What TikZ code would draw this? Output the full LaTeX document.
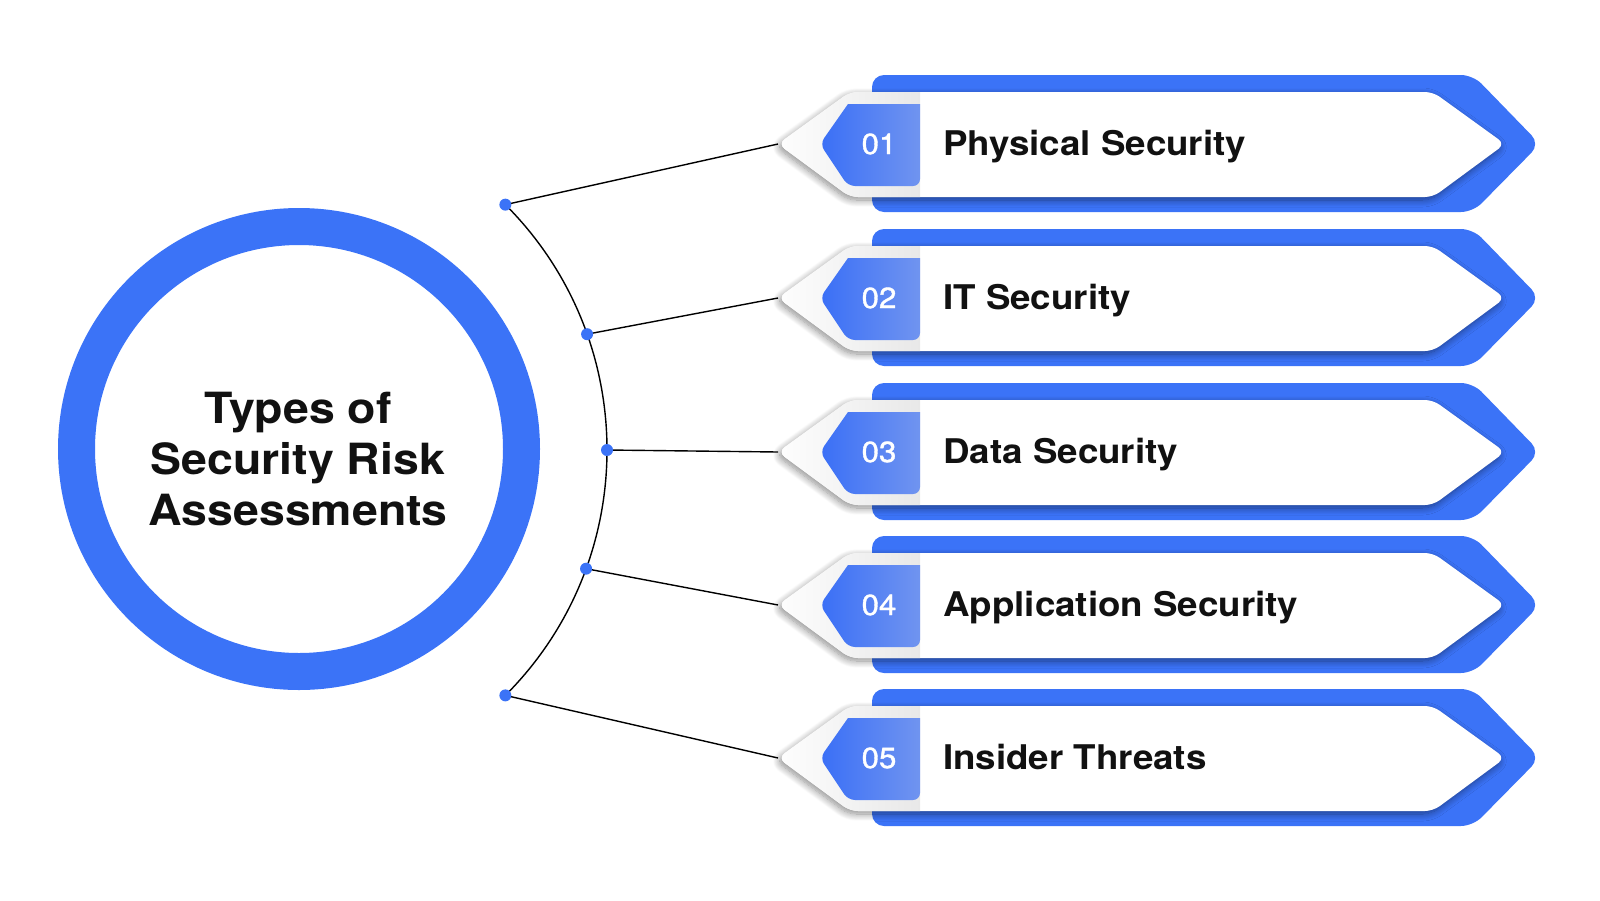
\documentclass[tikz,border=0pt]{standalone}
\usepackage{fontspec}
\setmainfont{TeX Gyre Heros}
\newfontfamily\grot[FakeStretch=1.08]{TeX Gyre Heros}
\newfontfamily\numfont[FakeStretch=1.08,FakeBold=1.2]{TeX Gyre Heros}
\usetikzlibrary{shadows.blur}
\definecolor{mblue}{HTML}{3B73F7}
\definecolor{tagL}{HTML}{3A6FF6}
\definecolor{tagR}{HTML}{7094F0}
\definecolor{ink}{HTML}{111111}
\tikzset{
  outerband/.style={fill=mblue, rounded corners=12pt},
  innerband/.style={fill=white, rounded corners=8pt,
    blur shadow={shadow xshift=-2pt, shadow yshift=-3pt, shadow blur radius=7pt, shadow opacity=45, shadow blur steps=12}},
  tagbox/.style={left color=tagL, right color=tagR},
  numtext/.style={text=white, font=\numfont\fontsize{29}{31}\selectfont, anchor=base, inner sep=0pt},
  labtext/.style={text=ink, font=\grot\bfseries\fontsize{34}{38}\selectfont, anchor=base west, inner sep=0pt},
  titletext/.style={text=ink, font=\grot\bfseries\fontsize{43}{51}\selectfont, align=center},
  hubdot/.style={circle, fill=mblue, inner sep=0pt, minimum size=12pt},
  link/.style={black, line width=1.4pt},
  ring/.style={circle, draw=mblue, line width=37pt, minimum size=445pt, inner sep=0pt},
}
\begin{document}
\begin{tikzpicture}[x=1pt,y=1pt]
\useasboundingbox (0,0) rectangle (1600,-900);
% central ring
\node[ring] (ringc) at (299,-449) {};
\node[titletext] (title) at (298,-459) {Types of\\Security Risk\\Assessments};
% bands
\foreach \i/\c/\lab in {1/144/Physical Security, 2/298/IT Security, 3/452/Data Security, 4/605/Application Security, 5/758/Insider Threats}{
  \begin{scope}[yshift=-\c pt]
    \path[outerband] (872,69) -- (1473,69) -- (1540,0) -- (1473,-68) -- (872,-68) -- cycle;
    \path[innerband] (778,0) -- (850,52) -- (1433,52) -- (1505,0) -- (1433,-53) -- (850,-53) -- cycle;
    \begin{scope}
      \clip[rounded corners=8pt] (778,0) -- (850,52) -- (1433,52) -- (1505,0) -- (1433,-53) -- (850,-53) -- cycle;
      \shade[left color=white, right color=black!9] (770,-60) rectangle (920,60);
    \end{scope}
    \path[tagbox] (920,40) -- (848,40) [rounded corners=7pt] -- (820,0) -- (848,-42) -- (920,-42) [sharp corners] -- cycle;
    \node[numtext] (num\i) at (879,-10) {0\i};
    \node[labtext] (lab\i) at (943,-11.5) {\lab};
    \coordinate (tip\i) at (778,0);
  \end{scope}
}
% connectors
\coordinate (arcc) at (260,-450);
\path (arcc) ++(45:347) coordinate (d1);
\path (arcc) ++(19.5:347) coordinate (d2);
\path (arcc) ++(0:347) coordinate (d3);
\path (arcc) ++(-20:347) coordinate (d4);
\path (arcc) ++(-45:347) coordinate (d5);
\draw[link] (d1) arc[start angle=45, end angle=-45, radius=347pt];
\foreach \i in {1,...,5}{
  \draw[link] (d\i) -- (tip\i);
  \node[hubdot] (hub\i) at (d\i) {};
}
\end{tikzpicture}
\end{document}
